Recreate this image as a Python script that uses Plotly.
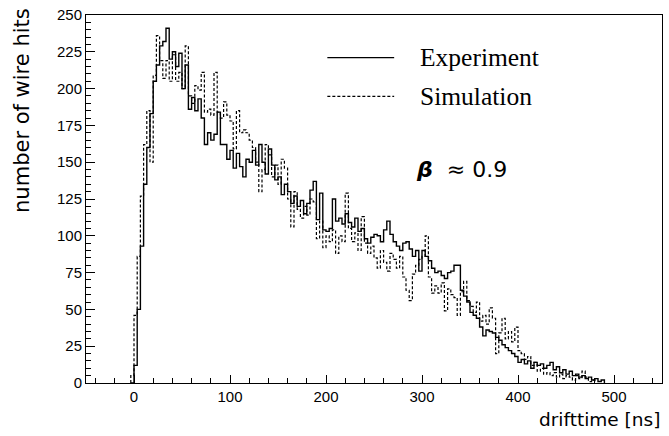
import numpy as np
import plotly.graph_objects as go

# histogram binning (ns)
bin_start = -10 / 3
bin_width = 10 / 3

experiment = [
    0,
    12, 50, 93, 135, 160, 183, 205, 216, 229, 232,
    241, 220, 225, 215, 224, 200, 216, 186, 194, 185,
    193, 180, 162, 170, 165, 169, 184, 162, 162, 152,
    158, 146, 156, 147, 140, 152, 150, 158, 148, 162,
    150, 142, 159, 148, 138, 140, 128, 135, 130, 122,
    127, 120, 124, 115, 122, 131, 137, 111, 129, 104,
    103, 105, 125, 110, 112, 108, 115, 109, 106, 112,
    103, 105, 98, 95, 99, 101, 100, 96, 104, 110,
    101, 96, 93, 90, 95, 96, 91, 86, 90, 76,
    90, 86, 83, 78, 75, 76, 73, 71, 75, 76,
    80, 80, 63, 59, 55, 48, 46, 44, 38, 32,
    36, 35, 34, 31, 29, 26, 24, 22, 20, 18,
    14, 16, 13, 15, 10, 14, 12, 13, 10, 12,
    14, 9, 11, 7, 9, 6, 8, 5, 6, 4,
    5, 3, 4, 2, 3, 1, 2,
]

simulation = [
    5,
    46, 86, 127, 162, 185, 150, 209, 236, 219, 207,
    219, 205, 223, 205, 211, 200, 229, 195, 190, 202,
    199, 211, 184, 186, 182, 211, 184, 180, 191, 182,
    178, 159, 185, 170, 172, 170, 165, 160, 150, 130,
    145, 162, 155, 140, 148, 135, 152, 146, 125, 106,
    130, 118, 112, 120, 114, 125, 123, 98, 110, 92,
    100, 96, 104, 88, 100, 96, 129, 105, 96, 102,
    90, 113, 95, 88, 93, 85, 78, 90, 82, 76,
    88, 84, 78, 86, 72, 63, 56, 74, 80, 84,
    86, 100, 72, 61, 66, 61, 68, 49, 64, 60,
    58, 46, 62, 69, 56, 52, 48, 55, 42, 46,
    40, 51, 44, 20, 34, 44, 30, 35, 28, 38,
    22, 20, 16, 18, 12, 14, 8, 10, 6, 7,
    5, 7, 4, 6, 3, 5, 4, 2, 5, 3,
    8, 4, 1, 2,
]

x_ticks = [0, 100, 200, 300, 400, 500]
y_ticks = [0, 25, 50, 75, 100, 125, 150, 175, 200, 225, 250]


def step_outline(counts):
    ''' histogram outline: edges + counts, closed to zero on both ends '''
    edges = bin_start + bin_width * np.arange(len(counts) + 1)
    xs = np.concatenate([[edges[0]], edges])
    ys = np.concatenate([[0], counts, [0]])
    return xs, ys


fig = go.Figure()

xs, ys = step_outline(experiment)
fig.add_trace(go.Scatter(x=xs, y=ys, mode='lines', line_shape='hv',
                         line=dict(color='black', width=1.4), name='Experiment'))

xs, ys = step_outline(simulation)
fig.add_trace(go.Scatter(x=xs, y=ys, mode='lines', line_shape='hv',
                         line=dict(color='black', width=1.2, dash='3px,2px'),
                         name='Simulation'))

axis_common = dict(showline=True, linecolor='black', linewidth=1, mirror=True,
                   showgrid=False, zeroline=False, ticks='inside', tickcolor='black',
                   tickfont=dict(family='Liberation Sans', size=15, color='black'))

fig.update_xaxes(range=[-50, 550], tickvals=x_ticks, ticklen=8,
                 minor=dict(dtick=20, tick0=0, ticks='inside', ticklen=5, tickcolor='black'),
                 **axis_common)
fig.update_yaxes(range=[0, 250], tickvals=y_ticks, ticklen=9,
                 minor=dict(dtick=5, tick0=0, ticks='inside', ticklen=5, tickcolor='black'),
                 **axis_common)

# hand-made legend like the original
fig.add_shape(type='line', xref='paper', yref='paper', x0=0.419, x1=0.535, y0=0.884, y1=0.884,
              line=dict(color='black', width=1.2))
fig.add_shape(type='line', xref='paper', yref='paper', x0=0.419, x1=0.535, y0=0.779, y1=0.779,
              line=dict(color='black', width=1.1, dash='3px,2px'))

serif = dict(family='Liberation Serif', size=25.5, color='black')
fig.add_annotation(text='Experiment', xref='paper', yref='paper', x=0.576, y=0.884,
                   xanchor='left', yanchor='middle', showarrow=False, font=serif)
fig.add_annotation(text='Simulation', xref='paper', yref='paper', x=0.576, y=0.779,
                   xanchor='left', yanchor='middle', showarrow=False, font=serif)

fig.add_annotation(text='<b><i>β</i></b>  ≈ 0.9', xref='paper', yref='paper', x=0.57, y=0.58,
                   xanchor='left', yanchor='middle', showarrow=False,
                   font=dict(family='DejaVu Sans', size=22, color='black'))

# axis titles
fig.add_annotation(text='drifttime [ns]', xref='paper', yref='paper', x=1.0, y=-0.1,
                   xanchor='right', yanchor='middle', showarrow=False,
                   font=dict(family='DejaVu Sans', size=18.5, color='black'))
fig.add_annotation(text='number of wire hits', xref='paper', yref='paper', x=-0.11, y=1.025,
                   xanchor='center', yanchor='top', textangle=-90, showarrow=False,
                   font=dict(family='DejaVu Sans', size=21, color='black'))

fig.update_layout(width=669, height=436, showlegend=False,
                  margin=dict(l=86, r=6, t=12, b=53),
                  plot_bgcolor='white', paper_bgcolor='white')

# page default body margin would shift the figure by 8px
fig.write_html("out.html", config={'displayModeBar': False},
               post_script="document.body.style.margin='0';")
